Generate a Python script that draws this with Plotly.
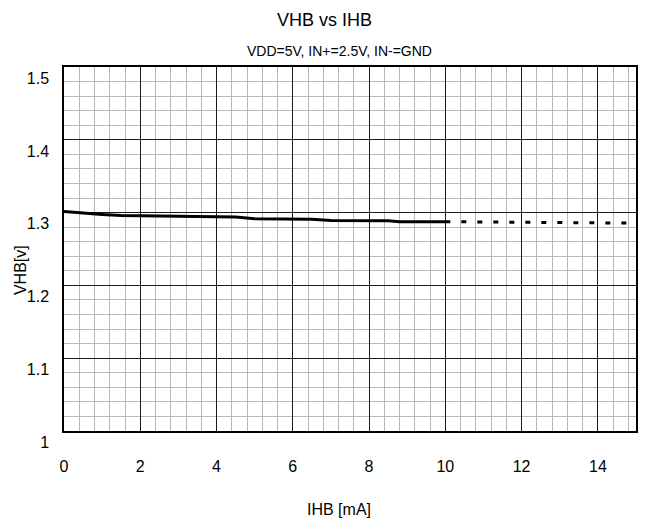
import plotly.graph_objects as go

# Data
ihb_solid = [0, 0.5, 1.0, 1.5, 2.0, 3.0, 4.0, 4.5, 5.0, 6.0, 6.5, 7.0, 8.0, 8.5, 8.8, 10.0]
vhb_solid = [1.3015, 1.2990, 1.2975, 1.2960, 1.2955, 1.2945, 1.2940, 1.2938, 1.2915, 1.2910,
             1.2910, 1.2890, 1.2890, 1.2888, 1.2876, 1.2875]
ihb_dash = [10, 11, 12, 13, 14, 15]
vhb_dash = [1.2875, 1.2870, 1.2865, 1.2862, 1.2858, 1.2855]

x_ticks = [0, 2, 4, 6, 8, 10, 12, 14]
y_ticks = [1.0, 1.1, 1.2, 1.3, 1.4, 1.5]
y_tick_text = ["1", "1.1", "1.2", "1.3", "1.4", "1.5"]

title_text = "VHB vs IHB"
subtitle_text = "VDD=5V, IN+=2.5V, IN-=GND"
x_title = "IHB [mA]"
y_title = "VHB[v]"

FONT = "Liberation Sans, Arial, sans-serif"

fig = go.Figure()
fig.add_trace(go.Scatter(x=ihb_solid, y=vhb_solid, mode="lines",
                         line=dict(color="black", width=3), showlegend=False))
fig.add_trace(go.Scatter(x=ihb_dash, y=vhb_dash, mode="lines",
                         line=dict(color="black", width=3, dash="5px,11px"), showlegend=False))

fig.update_layout(
    width=645, height=520,
    margin=dict(l=64, r=9, t=67, b=89),
    paper_bgcolor="white", plot_bgcolor="white",
    font=dict(family=FONT, size=16, color="black"),
    xaxis=dict(range=[0, 15], tickvals=x_ticks, ticks="", ticklabelstandoff=20,
               automargin=False,
               showgrid=True, gridcolor="#1a1a1a", gridwidth=1,
               minor=dict(dtick=0.4, tick0=0, showgrid=True, gridcolor="#b8b8b8", gridwidth=1),
               showline=True, linecolor="black", linewidth=1.5, mirror=True, zeroline=False,
               tickfont=dict(size=16)),
    yaxis=dict(range=[1.0, 1.5], tickvals=y_ticks, ticktext=y_tick_text, ticks="",
               ticklabelposition="outside bottom", ticklabelstandoff=10,
               automargin=False,
               showgrid=True, gridcolor="#1a1a1a", gridwidth=1,
               minor=dict(dtick=0.02, tick0=1.0, showgrid=True, gridcolor="#b8b8b8", gridwidth=1),
               showline=True, linecolor="black", linewidth=1.5, mirror=True, zeroline=False,
               tickfont=dict(size=16)),
    annotations=[
        dict(text=title_text, xref="paper", yref="paper", x=0.456, y=1.128,
             xanchor="center", yanchor="middle", showarrow=False, font=dict(size=18)),
        dict(text=subtitle_text, xref="paper", yref="paper", x=0.482, y=1.043,
             xanchor="center", yanchor="middle", showarrow=False, font=dict(size=14)),
        dict(text=x_title, xref="paper", yref="paper", x=0.481, y=-0.217,
             xanchor="center", yanchor="middle", showarrow=False, font=dict(size=16)),
        dict(text=y_title, xref="paper", yref="paper", x=-0.077, y=0.442, textangle=-90,
             xanchor="center", yanchor="middle", showarrow=False, font=dict(size=16)),
    ],
)

# remove the default 8px body margin so the figure fills the window exactly
fig.write_html("out.html", config={"displayModeBar": False},
               post_script="document.body.style.margin='0';")
